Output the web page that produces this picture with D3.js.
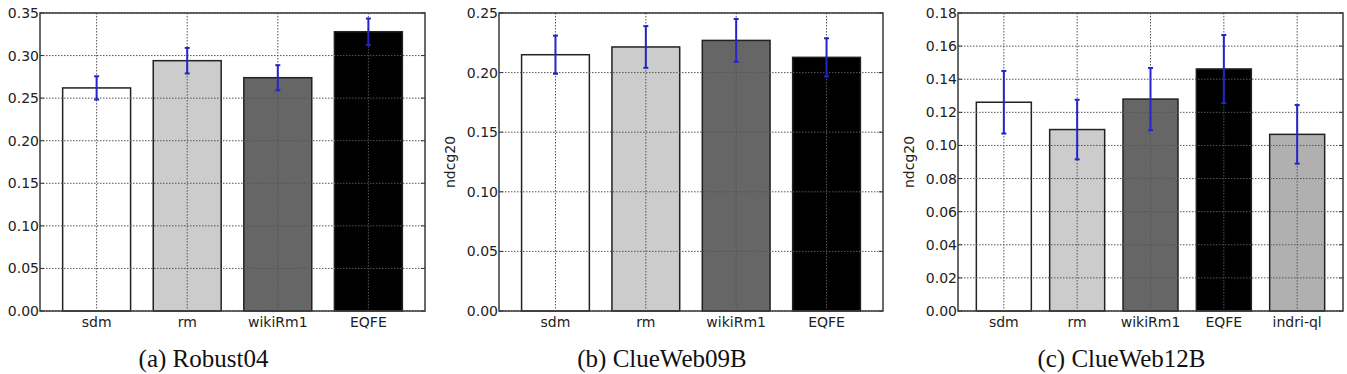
<!DOCTYPE html>
<html>
<head>
<meta charset="utf-8">
<title>ndcg20 per collection</title>
<script src="https://d3js.org/d3.v7.min.js"></script>
<style>
    body { margin: 0; background: #fff; }
    svg { display: block; }
    .tick-label { font-family: "DejaVu Sans", sans-serif; font-size: 14px; fill: #222; }
    .ylab { font-family: "DejaVu Sans", sans-serif; font-size: 14px; fill: #222; }
    .caption { font-family: "Liberation Serif", "Times New Roman", serif; font-size: 25px; fill: #111; }
</style>
</head>
<body>
<svg id="fig" width="1347" height="374"></svg>
<script>
    // values
    var robustCats = ["sdm", "rm", "wikiRm1", "EQFE"];
    var robustVals = [0.262, 0.294, 0.274, 0.328];
    var robustErr  = [0.0137, 0.015, 0.0147, 0.0155];
    var robustTicks = [0, 0.05, 0.10, 0.15, 0.20, 0.25, 0.30, 0.35];

    var cw09Cats = ["sdm", "rm", "wikiRm1", "EQFE"];
    var cw09Vals = [0.215, 0.2215, 0.227, 0.2128];
    var cw09Err  = [0.016, 0.0175, 0.018, 0.016];
    var cw09Ticks = [0, 0.05, 0.10, 0.15, 0.20, 0.25];

    var cw12Cats = ["sdm", "rm", "wikiRm1", "EQFE", "indri-ql"];
    var cw12Vals = [0.1261, 0.1096, 0.128, 0.1462, 0.1067];
    var cw12Err  = [0.0189, 0.018, 0.0188, 0.0205, 0.0177];
    var cw12Ticks = [0, 0.02, 0.04, 0.06, 0.08, 0.10, 0.12, 0.14, 0.16, 0.18];

    var fills = { "sdm": "#ffffff", "rm": "#cccccc", "wikiRm1": "#666666", "EQFE": "#000000", "indri-ql": "#b0b0b0" };

    var svg = d3.select("#fig");
    var plotTop = 13, plotBottom = 311;

    function panel(left, right, cats, vals, errs, ticks, caption) {
        var g = svg.append("g");

        var x = d3.scaleBand().domain(cats).range([left, right])
            .paddingInner(0.25).paddingOuter(0.25);
        var y = d3.scaleLinear().domain([0, ticks[ticks.length - 1]]).range([plotBottom, plotTop]);
        var cx = function (d) { return x(d) + x.bandwidth() / 2; };

        // bars
        g.selectAll("rect.bar").data(cats).enter().append("rect")
            .attr("class", "bar")
            .attr("x", function (d) { return x(d); })
            .attr("width", x.bandwidth())
            .attr("y", function (d, i) { return y(vals[i]); })
            .attr("height", function (d, i) { return y(0) - y(vals[i]); })
            .style("fill", function (d) { return fills[d]; })
            .style("stroke", "#222")
            .style("stroke-width", 1.5);

        // dotted grid over the bars
        g.selectAll("line.hgrid").data(ticks).enter().append("line")
            .attr("x1", left).attr("x2", right)
            .attr("y1", function (d) { return y(d); })
            .attr("y2", function (d) { return y(d); })
            .style("stroke", "#555").style("stroke-width", 1)
            .style("stroke-dasharray", "1.5,1.5");
        g.selectAll("line.vgrid").data(cats).enter().append("line")
            .attr("x1", cx).attr("x2", cx)
            .attr("y1", plotTop).attr("y2", plotBottom)
            .style("stroke", "#555").style("stroke-width", 1)
            .style("stroke-dasharray", "1.5,1.5");

        // error bars
        var eb = g.selectAll("g.err").data(cats).enter().append("g");
        eb.append("line")
            .attr("x1", cx).attr("x2", cx)
            .attr("y1", function (d, i) { return y(vals[i] - errs[i]); })
            .attr("y2", function (d, i) { return y(vals[i] + errs[i]); });
        eb.append("line")
            .attr("x1", function (d) { return cx(d) - 2.5; })
            .attr("x2", function (d) { return cx(d) + 2.5; })
            .attr("y1", function (d, i) { return y(vals[i] + errs[i]); })
            .attr("y2", function (d, i) { return y(vals[i] + errs[i]); });
        eb.append("line")
            .attr("x1", function (d) { return cx(d) - 2.5; })
            .attr("x2", function (d) { return cx(d) + 2.5; })
            .attr("y1", function (d, i) { return y(vals[i] - errs[i]); })
            .attr("y2", function (d, i) { return y(vals[i] - errs[i]); });
        eb.selectAll("line").style("stroke", "#2424cc").style("stroke-width", 2);

        // inward ticks left and right
        g.selectAll("line.tl").data(ticks).enter().append("line")
            .attr("x1", left).attr("x2", left + 4)
            .attr("y1", function (d) { return y(d); }).attr("y2", function (d) { return y(d); })
            .style("stroke", "#333");
        g.selectAll("line.tr").data(ticks).enter().append("line")
            .attr("x1", right - 4).attr("x2", right)
            .attr("y1", function (d) { return y(d); }).attr("y2", function (d) { return y(d); })
            .style("stroke", "#333");

        // frame
        g.append("rect")
            .attr("x", left).attr("y", plotTop)
            .attr("width", right - left).attr("height", plotBottom - plotTop)
            .style("fill", "none").style("stroke", "#3a3a3a").style("stroke-width", 1.5);

        // y tick labels
        g.selectAll("text.yt").data(ticks).enter().append("text")
            .attr("class", "tick-label")
            .attr("text-anchor", "end")
            .attr("x", left - 1)
            .attr("y", function (d) { return y(d) + 5; })
            .text(d3.format(".2f"));

        // category labels
        g.selectAll("text.xt").data(cats).enter().append("text")
            .attr("class", "tick-label")
            .attr("text-anchor", "middle")
            .attr("x", cx)
            .attr("y", 327)
            .text(function (d) { return d; });

        // y label
        g.append("text")
            .attr("class", "ylab")
            .attr("text-anchor", "middle")
            .attr("transform", "translate(" + (left - 44) + "," + 162 + ") rotate(-90)")
            .text("ndcg20");

        // caption
        g.append("text")
            .attr("class", "caption")
            .attr("text-anchor", "middle")
            .attr("x", (left + right) / 2 - 29)
            .attr("y", 367)
            .text(caption);
    }

    panel(40, 425, robustCats, robustVals, robustErr, robustTicks, "(a) Robust04");
    panel(499, 883, cw09Cats, cw09Vals, cw09Err, cw09Ticks, "(b) ClueWeb09B");
    panel(958, 1343, cw12Cats, cw12Vals, cw12Err, cw12Ticks, "(c) ClueWeb12B");
</script>
</body>
</html>
